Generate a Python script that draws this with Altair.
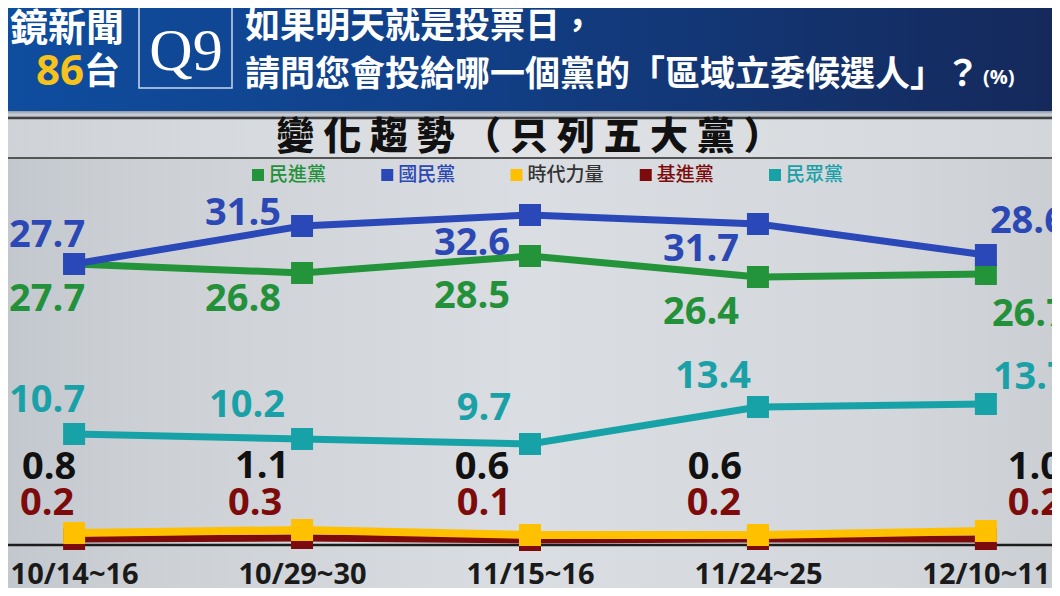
import altair as alt
import pandas as pd

# ---------------- data ----------------
dates = ["10/14~16", "10/29~30", "11/15~16", "11/24~25", "12/10~11"]
parties = ["民進黨", "國民黨", "時代力量", "基進黨", "民眾黨"]
dpp = [27.7, 26.8, 28.5, 26.4, 26.7]
kmt = [27.7, 31.5, 32.6, 31.7, 28.6]
npp = [0.8, 1.1, 0.6, 0.6, 1.0]
tsp = [0.2, 0.3, 0.1, 0.2, 0.2]
tpp = [10.7, 10.2, 9.7, 13.4, 13.7]
series = dict(zip(parties, [dpp, kmt, npp, tsp, tpp]))

# ---------------- styles ----------------
line_colors = ["#24943a", "#2b48b8", "#ffc000", "#7d0b0b", "#17a2a8"]
label_colors = ["#23913a", "#2b48b5", "#111111", "#7d0b0b", "#19a1a7"]
legend_text_colors = ["#23913a", "#2b48b5", "#333333", "#7d0b0b", "#19a1a7"]
# value-label offsets (pixels) per party, per date
label_dx = {
    "民進黨": [-27, -59, -58, -57, 44],
    "國民黨": [-27, -59, -58, -57, 42],
    "時代力量": [-25, -40, -48, -43, 49],
    "基進黨": [-27, -47, -46, -44, 49],
    "民眾黨": [-27, -55, -46, -45, 45],
}
label_dy = {
    "民進黨": [36, 27, 41, 36, 41],
    "國民黨": [-28, -12, 29, 26, -33],
    "時代力量": [-65, -63, -67, -67, -63],
    "基進黨": [-35, -34, -36, -35, -35],
    "民眾黨": [-33, -33, -35, -30, -26],
}
draw_order = ["民眾黨", "基進黨", "時代力量", "民進黨", "國民黨"]

W, H = 1044, 537
NUM_FONT = "Open Sans"
CJK = "Noto Sans CJK TC"

rows = []
for pi, p in enumerate(parties):
    for di, d in enumerate(dates):
        v = series[p][di]
        rows.append({
            "date": d, "party": p, "value": v, "label": f"{v:.1f}",
            "ldx": label_dx[p][di], "ldy": label_dy[p][di],
            "tcolor": label_colors[pi],
        })
df = pd.DataFrame(rows)
legend_df = pd.DataFrame({"party": parties, "li": list(range(len(parties))),
                          "tcolor": legend_text_colors})
one = pd.DataFrame({"k": [0]})

color = alt.Color("party:N", scale=alt.Scale(domain=parties, range=line_colors), legend=None)
yenc = alt.Y("value:Q", scale=alt.Scale(domain=[-0.4, 53.3], nice=False, zero=False), axis=None)

x_axis = alt.Axis(domain=False, ticks=False, grid=False, title=None, labelAngle=0,
                  labelFont=NUM_FONT, labelFontSize=29, labelFontWeight="bold",
                  labelColor="#1a1a1a", labelPadding=29, labelBaseline="middle",
                  zindex=1)
xenc = alt.X("date:N", sort=dates, scale=alt.Scale(type="point", padding=0.29), axis=x_axis)


def grad(stops, horizontal=True):
    return alt.LinearGradient(
        gradient="linear",
        stops=[alt.GradientStop(color=c, offset=o) for o, c in stops],
        x1=0, x2=1 if horizontal else 0, y1=0, y2=0 if horizontal else 1)


def box(y0, y1, fill):
    return alt.Chart(one).mark_rect(color=fill).encode(
        x=alt.value(0), x2=alt.value(W), y=alt.value(y0), y2=alt.value(y1))


def txt(text, x, y, size, color="#ffffff", font=CJK, weight="bold", align="left"):
    return alt.Chart(one).mark_text(text=text, font=font, fontSize=size, fontWeight=weight,
                                    color=color, align=align, baseline="middle").encode(
        x=alt.value(x), y=alt.value(y))


body = box(103, 580, grad([(0, "#c3c8ce"), (0.12, "#ccd0d5"), (0.5, "#dadde1"), (0.85, "#d3d6db"), (1, "#cbcfd4")]))
header = box(0, 103, grad([(0, "#0f4d9f"), (0.45, "#113f86"), (1, "#15295b")]))
strip = box(103, 110, grad([(0, "#8c96a3"), (0.5, "#c9ced5"), (1, "#aab2bc")], horizontal=False))
title_band = box(110, 150, grad([(0, "#cfd3d8"), (0.5, "#e0e2e5"), (1, "#d3d7db")]))


def hrule(y, w=2.5, c="#3f3f3f"):
    return alt.Chart(one).mark_rule(color=c, strokeWidth=w).encode(
        x=alt.value(0), x2=alt.value(W), y=alt.value(y))


qbox = alt.Chart(one).mark_rect(filled=False, stroke="#c9d8ef", strokeWidth=1.5).encode(
    x=alt.value(131), x2=alt.value(224), y=alt.value(-1), y2=alt.value(80))

header_texts = [
    txt("鏡新聞", 59, 22, 38, align="center"),
    txt("86", 76, 64, 42, color="#f6c21c", font="Noto Sans", align="right"),
    txt("台", 76, 65, 36),
    txt("Q9", 178, 44, 60, font="Liberation Serif", weight="normal", align="center"),
    txt("如果明天就是投票日，", 237, 19, 35),
    txt("請問您會投給哪一個黨的「區域立委候選人」？", 237, 67, 35),
    txt("(%)", 975, 70, 20, font=NUM_FONT),
    txt("變 化 趨 勢 （ 只 列 五 大 黨 ）", 521, 130, 38, color="#111111", weight=900, align="center"),
]

# legend
leg_x = alt.X("li:Q", scale=alt.Scale(domain=[0, 4], range=[250, 767]), axis=None)
legend_sq = alt.Chart(legend_df).mark_square(size=144, opacity=1).encode(
    x=leg_x, y=alt.value(167), color=color)
legend_tx = alt.Chart(legend_df).mark_text(font=CJK, fontSize=19, fontWeight=500, align="left",
                                           baseline="middle", dx=11).encode(
    x=leg_x, y=alt.value(167), text="party:N", fill=alt.Fill("tcolor:N", scale=None))

axis_rule = hrule(537, 2.5, "#1c1c1c")

series_layers = []
for p in draw_order:
    base = alt.Chart(df).transform_filter(alt.datum.party == p)
    sw = 8 if p == "時代力量" else 7
    series_layers.append(base.mark_line(strokeWidth=sw).encode(x=xenc, y=yenc, color=color))
    series_layers.append(base.mark_square(size=484, opacity=1).encode(x=xenc, y=yenc, color=color))

labels = alt.Chart(df).mark_text(
    font=NUM_FONT, fontSize=38, fontWeight="bold", align="center", baseline="middle",
    dx=alt.ExprRef(expr="datum.ldx"), dy=alt.ExprRef(expr="datum.ldy")).encode(
    x=xenc, y=yenc, text="label:N", fill=alt.Fill("tcolor:N", scale=None))

main = alt.layer(*series_layers, labels)

chart = alt.layer(
    body, header, strip, title_band, hrule(110, 2.5, "#404040"), hrule(150, 2, "#555555"),
    qbox, *header_texts, legend_sq, legend_tx, axis_rule, main
).resolve_scale(x="independent").properties(
    width=W, height=H,
    autosize=alt.AutoSizeParams(type="none"),
    padding={"left": 0, "top": 0, "right": 0, "bottom": 43},
).configure_view(stroke=None).configure(background="#cfd3d8")

chart.save("out.html", embed_options={"renderer": "svg", "actions": False})
